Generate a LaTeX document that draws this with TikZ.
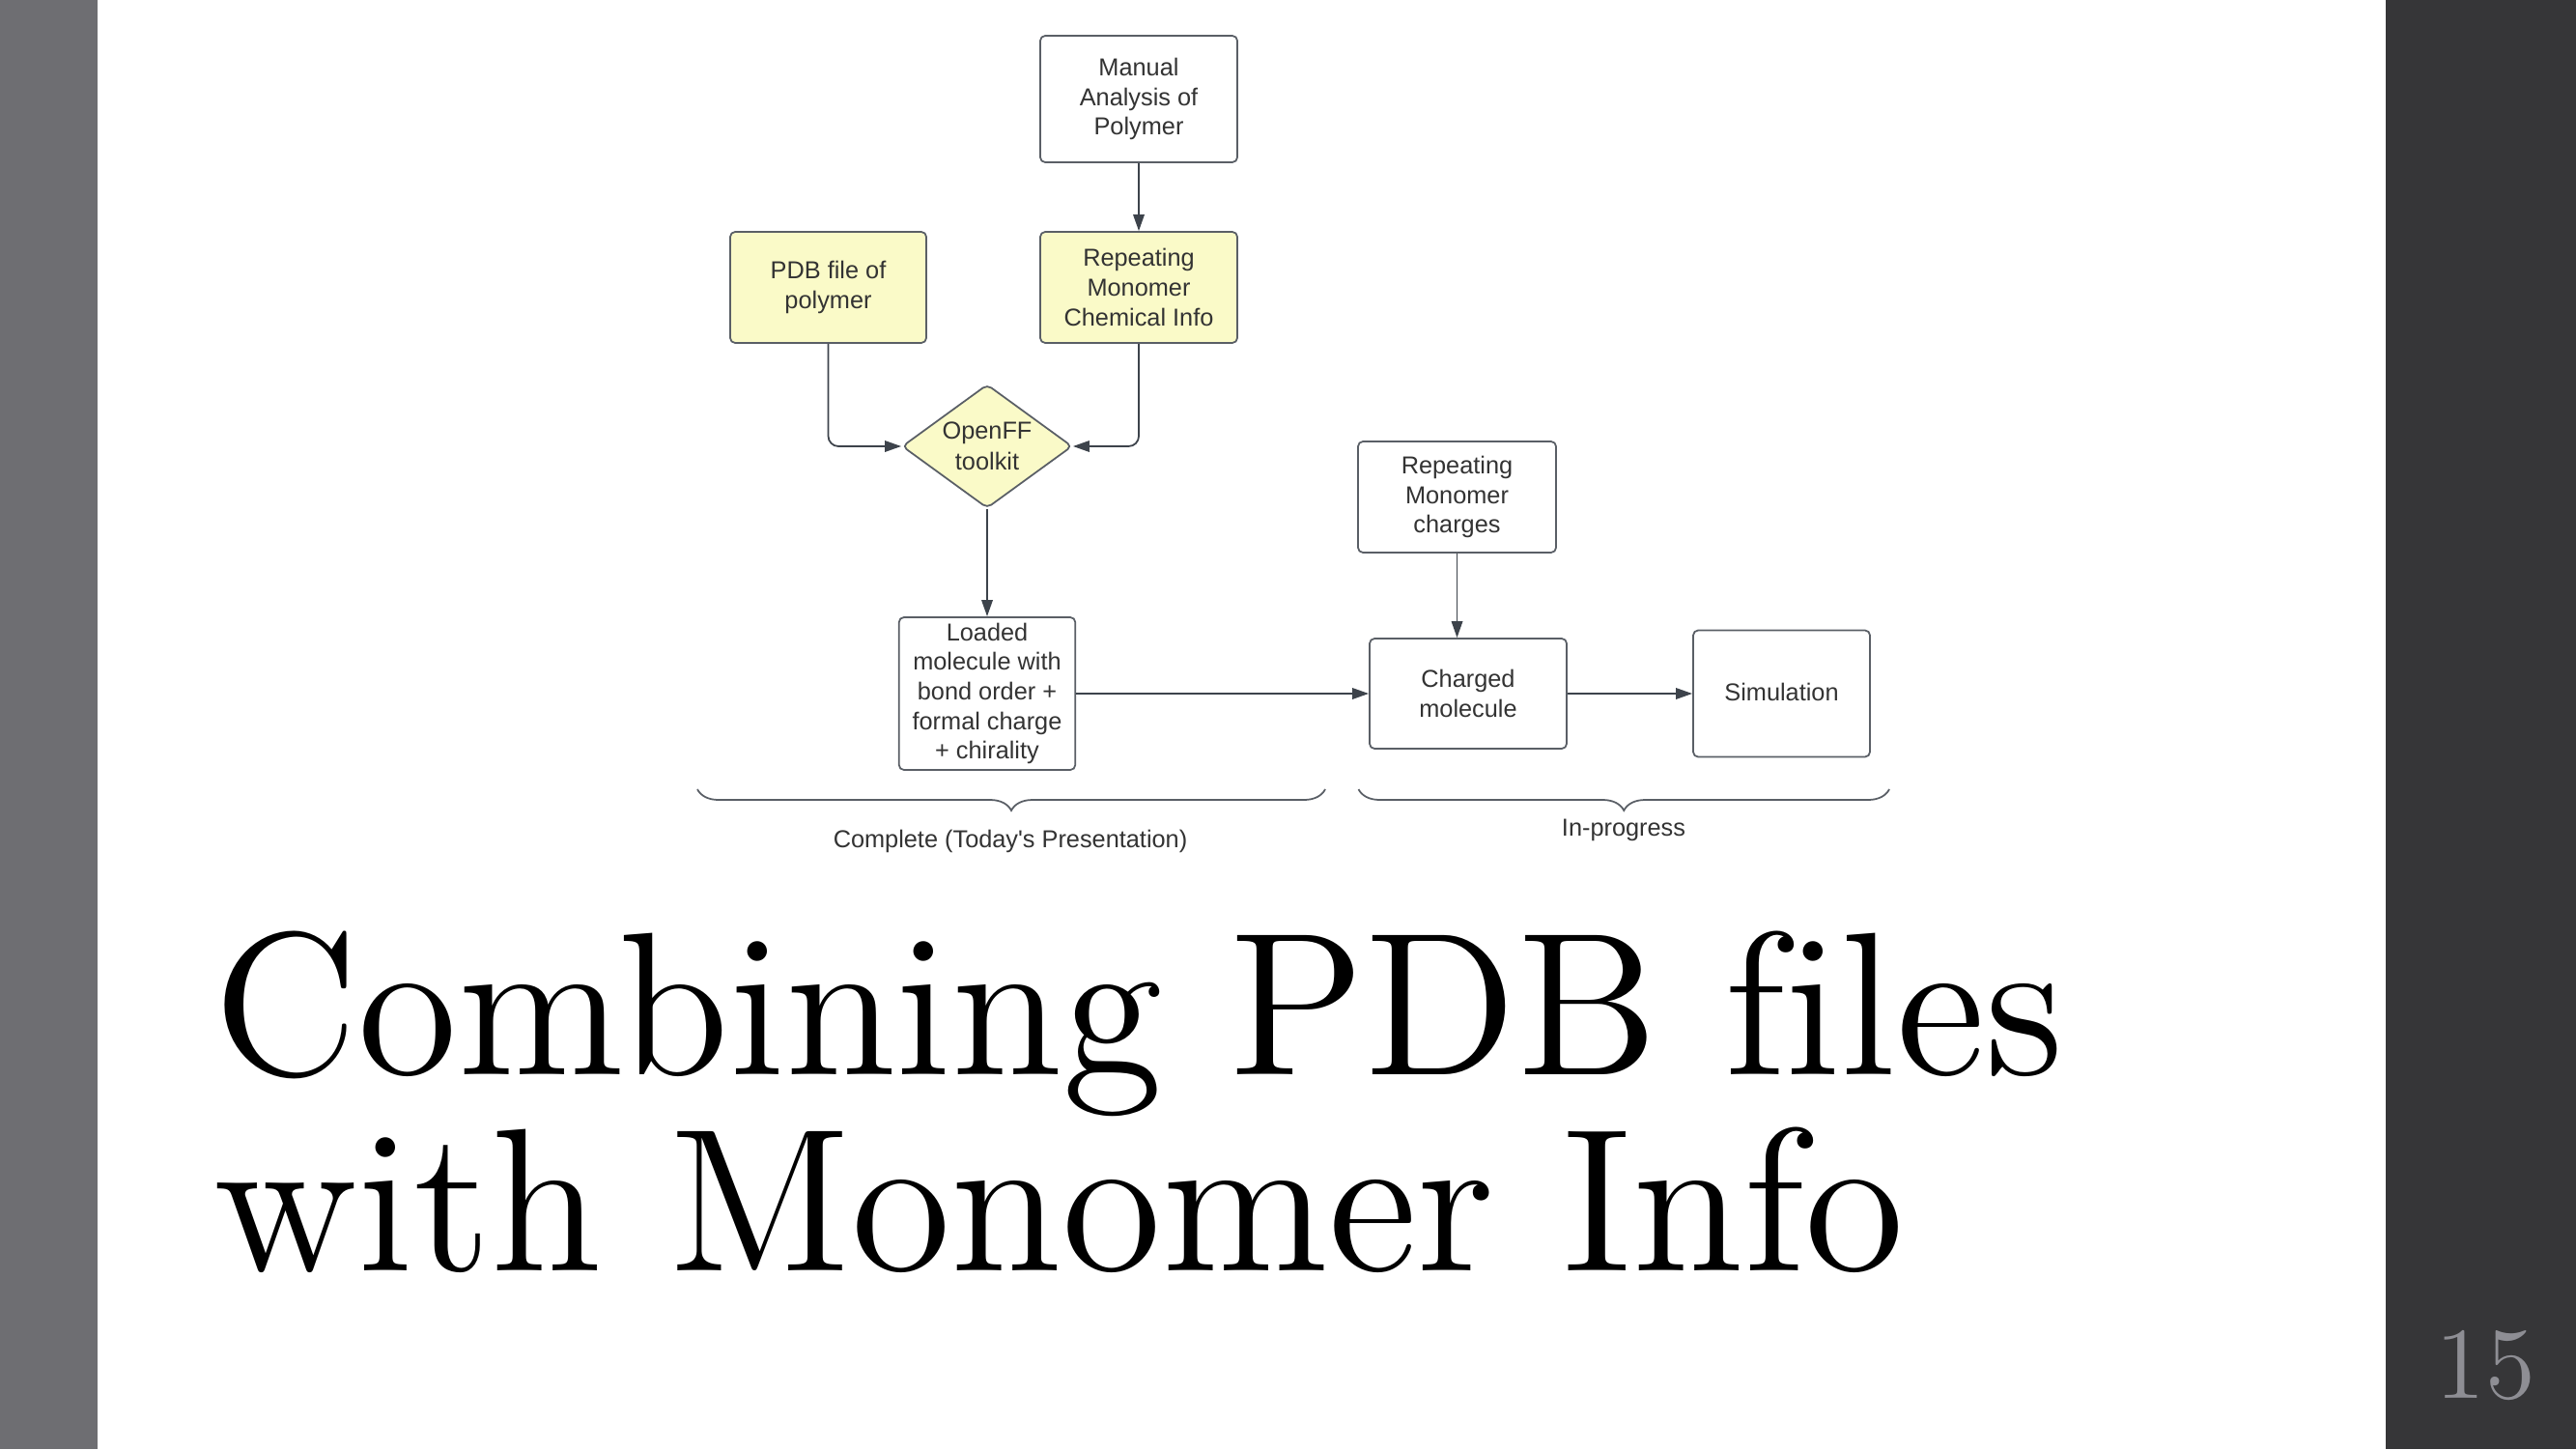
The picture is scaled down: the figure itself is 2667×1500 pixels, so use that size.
\documentclass[tikz,border=0pt]{standalone}
\usepackage{fontspec}
\newfontfamily\chartfont{Liberation Sans}
\newfontfamily\titlefont[Ligatures=NoCommon]{lmroman12-regular.otf}
\usetikzlibrary{arrows.meta,shapes.geometric,decorations.pathreplacing}
\definecolor{boxline}{HTML}{5A5F66}
\definecolor{arrowline}{HTML}{3D434B}
\definecolor{paleyellow}{HTML}{FAFAC8}
\definecolor{txt}{HTML}{333333}
\definecolor{leftstrip}{HTML}{6E6E72}
\definecolor{rightstrip}{HTML}{363638}
\definecolor{pagegray}{HTML}{8E8E94}

\begin{document}
\begin{tikzpicture}[x=0.01cm,y=-0.01cm,>={Triangle[length=1.7mm,width=1.15mm]},
box/.style={draw=boxline,line width=0.5pt,rounded corners=1.5pt,align=center,
  inner sep=0pt,text=txt,font=\chartfont\fontsize{7.2}{8.7}\selectfont},
yellowbox/.style={box,fill=paleyellow},
link/.style={color=arrowline,line width=0.5pt},
bracetext/.style={text=txt,font=\chartfont\fontsize{7.2}{8.7}\selectfont},
bigtitle/.style={anchor=base west,inner sep=0pt,font=\titlefont\fontsize{60}{58}\selectfont}]
\useasboundingbox (0,0) rectangle (2667,1500);
\fill[white] (0,0) rectangle (2667,1500);
\fill[leftstrip] (0,0) rectangle (101,1500);
\fill[rightstrip] (2470,0) rectangle (2667,1500);

\node[box,minimum width=2.04cm,minimum height=1.31cm] (manual) at (1179,102.5) {Manual\\Analysis of\\Polymer};
\node[yellowbox,minimum width=2.04cm,minimum height=1.15cm] (chem) at (1179,297.5) {Repeating\\Monomer\\Chemical Info};
\node[yellowbox,minimum width=2.03cm,minimum height=1.15cm] (pdb) at (857.5,297.5) {PDB file of\\polymer};
\node[yellowbox,diamond,aspect=1.375,minimum width=1.76cm,minimum height=1.28cm] (openff) at (1022,462) {\raisebox{0.4pt}{OpenFF}\\toolkit};
\node[box,minimum width=2.05cm,minimum height=1.15cm] (charges) at (1508.5,514.5) {Repeating\\Monomer\\charges};
\node[box,minimum width=1.825cm,minimum height=1.58cm] (loaded) at (1022,718) {Loaded\\molecule with\\bond order +\\formal charge\\+ chirality};
\node[box,minimum width=2.04cm,minimum height=1.14cm] (charged) at (1520,718) {Charged\\molecule};
\node[box,minimum width=1.83cm,minimum height=1.31cm] (sim) at (1844.5,718) {\raisebox{1.1pt}{Simulation}};

\path[->,link](manual) edge (chem);
\draw[->,link,rounded corners=3pt](pdb) |- (openff);
\draw[->,link,rounded corners=3pt](chem) |- (openff);
\path[->,link](openff) edge (loaded);
\path[->,link](loaded) edge (charged);
\path[->,link](charges.south) edge (charges.south |- charged.north);
\path[->,link](charged) edge (sim);

\coordinate (done-r) at (1372,817);
\coordinate (done-l) at (722,817);
\coordinate (todo-r) at (1956,817);
\coordinate (todo-l) at (1406.5,817);
\draw[boxline,line width=0.5pt,decorate,decoration={brace,amplitude=0.22cm}] (done-r) -- (done-l);
\draw[boxline,line width=0.5pt,decorate,decoration={brace,amplitude=0.22cm}] (todo-r) -- (todo-l);
\node[bracetext] (complete) at (1046,871) {Complete (Today's Presentation)};
\node[bracetext] (inprogress) at (1681,859) {In-progress};

\node[bigtitle] (title1) at (221,1112) {Combining PDB files};
\node[bigtitle] (title2) at (221,1315) {with Monomer Info};
\node[anchor=base,text=pagegray,font=\titlefont\fontsize{30}{36}\selectfont] (pagenum) at (2573,1447) {15};
\end{tikzpicture}
\end{document}
